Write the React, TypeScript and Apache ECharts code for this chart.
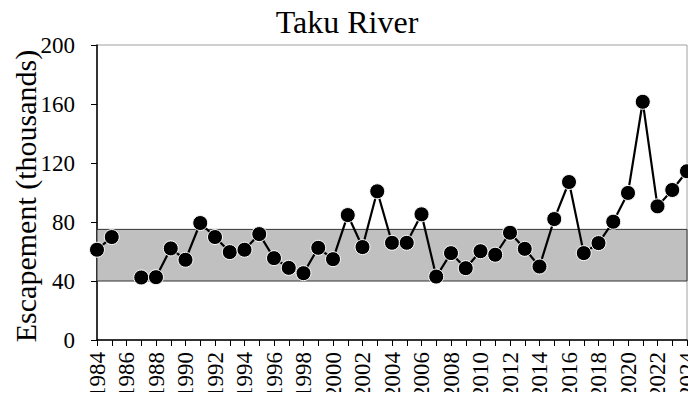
import React, { useEffect, useRef } from "react";
import * as echarts from "echarts";

const years: string[] = [];
for (let y = 1984; y <= 2024; y++) years.push(String(y));

const escapement: (number | null)[] = [
  61.2, 69.8, null, 42.4, 42.6, 62.1, 54.4, 79.3, 69.8, 59.6,
  61.2, 71.8, 55.5, 48.9, 45.3, 62.5, 54.8, 84.7, 63.0, 100.8,
  65.9, 65.9, 85.2, 43.0, 58.9, 48.7, 60.2, 57.8, 72.7, 61.8,
  49.8, 82.0, 107.1, 58.9, 65.7, 80.2, 99.7, 161.5, 90.6, 101.7,
  114.4,
];

const goalLow = 40;
const goalHigh = 75;

const yAxisTitle = "Escapement (thousands)";

const FONT = "'Liberation Serif', 'Times New Roman', serif";

export default function App() {
  const ref = useRef<HTMLDivElement>(null);
  useEffect(() => {
    if (!ref.current) return;
    const chart = echarts.init(ref.current, undefined, { renderer: "svg" });
    chart.setOption({
      animation: false,
      backgroundColor: "#ffffff",
      title: {
        text: "Taku River",
        left: 342,
        textAlign: "center",
        top: 1,
        textStyle: { fontFamily: FONT, fontSize: 32, fontWeight: "normal", color: "#000" },
      },
      graphic: [
        {
          type: "text",
          x: 25,
          y: 196,
          rotation: Math.PI / 2,
          style: {
            text: yAxisTitle,
            fontFamily: FONT,
            fontSize: 30,
            fill: "#000",
            align: "center",
            verticalAlign: "middle",
          },
        },
      ],
      grid: {
        left: 97,
        right: 9,
        top: 45,
        bottom: 60,
        containLabel: false,
        outerBoundsMode: "none",
        show: true,
        borderColor: "#a0a0a0",
        borderWidth: 1,
      },
      xAxis: {
        type: "category",
        data: years,
        boundaryGap: false,
        axisLine: { lineStyle: { color: "#000", width: 1.5 } },
        axisTick: { interval: 0, length: 6, lineStyle: { color: "#000" } },
        axisLabel: {
          interval: 1,
          rotate: 90,
          margin: 12,
          fontFamily: FONT,
          fontSize: 23,
          lineHeight: 16,
          color: "#000",
        },
        splitLine: { show: false },
      },
      yAxis: {
        type: "value",
        min: 0,
        max: 200,
        interval: 40,
        axisLine: { show: true, lineStyle: { color: "#000", width: 1.5 } },
        axisTick: { show: true, length: 6, lineStyle: { color: "#000" } },
        axisLabel: { fontFamily: FONT, fontSize: 23, color: "#000", margin: 22 },
        splitLine: { show: false },
      },
      series: [
        {
          type: "line",
          data: escapement,
          connectNulls: false,
          showAllSymbol: true,
          symbol: "circle",
          symbolSize: 15,
          lineStyle: { color: "#000", width: 2.2 },
          itemStyle: { color: "#000", borderColor: "#fff", borderWidth: 1 },
          z: 5,
          markArea: {
            silent: true,
            itemStyle: { color: "#c0c0c0", borderColor: "#333", borderWidth: 1 },
            data: [[{ yAxis: goalLow }, { yAxis: goalHigh }]],
          },
        },
      ],
    });
    return () => chart.dispose();
  }, []);
  return <div ref={ref} style={{ width: 696, height: 400, margin: -8 }} />;
}
